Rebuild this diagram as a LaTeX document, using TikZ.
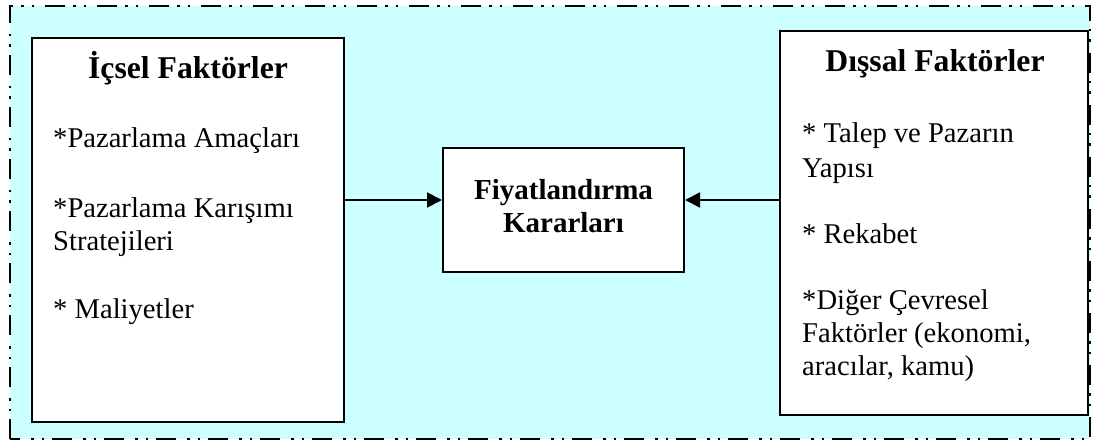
\documentclass[tikz,border=0pt]{standalone}
\usepackage{fontspec}
\setmainfont{Liberation Serif}
\usetikzlibrary{arrows.meta}
\definecolor{panelcyan}{HTML}{CCFFFF}
\tikzset{
  frame/.style={draw=black, line width=2pt, dash pattern=on 20pt off 8pt on 2.5pt off 8pt on 2.5pt off 11pt},
  factorbox/.style={draw=black, fill=white, line width=2pt, rectangle, inner sep=0pt},
  heading/.style={font=\bfseries\fontsize{31.7}{36}\selectfont, inner sep=0pt},
  item/.style={font=\fontsize{28.6}{33}\selectfont, inner sep=0pt, anchor=base west},
  midtext/.style={font=\bfseries\fontsize{29}{33}\selectfont, inner sep=0pt, anchor=base},
  flow/.style={draw=black, line width=2pt, -{Triangle[length=15pt,width=15pt]}}
}
\begin{document}
\begin{tikzpicture}[x=1pt,y=-1pt]
\useasboundingbox (0,0) rectangle (1093,441);
% background panel with dash-dot-dot border
\fill[panelcyan] (10,6) rectangle (1090,439);
\draw[frame] (10,439) -- (10,6) -- (1090,6) -- (1090,439) -- cycle;

% the three boxes
\node[factorbox, minimum width=312pt, minimum height=384pt] (ic) at (188,230) {};
\node[factorbox, minimum width=241pt, minimum height=124pt] (fk) at (563.5,210) {};
\node[factorbox, minimum width=308pt, minimum height=384pt] (dis) at (934,223) {};

% internal factors
\node[heading, anchor=base] (icT) at (188,79) {İçsel Faktörler};
\node[item] (ic1) at (53,148) {*Pazarlama Amaçları};
\node[item] (ic2) at (53,217) {*Pazarlama Karışımı};
\node[item] (ic3) at (53,250) {Stratejileri};
\node[item] (ic4) at (53,318) {* Maliyetler};

% pricing decisions
\node[midtext] (fk1) at (563.5,200) {Fiyatlandırma};
\node[midtext] (fk2) at (563.5,233) {Kararları};

% external factors
\node[heading, anchor=base] (disT) at (935,72) {Dışsal Faktörler};
\node[item] (d1) at (802,143) {* Talep ve Pazarın};
\node[item] (d2) at (802,178) {Yapısı};
\node[item] (d3) at (802,243) {* Rekabet};
\node[item] (d4) at (802,309) {*Diğer Çevresel};
\node[item] (d5) at (802,342) {Faktörler (ekonomi,};
\node[item] (d6) at (802,375) {aracılar, kamu)};

% arrows into the decision box
\coordinate (inL) at (fk.west |- 0,200);
\coordinate (inR) at (fk.east |- 0,200);
\draw[flow] (ic.east |- inL) -- (inL);
\draw[flow] (dis.west |- inR) -- (inR);
\end{tikzpicture}
\end{document}
